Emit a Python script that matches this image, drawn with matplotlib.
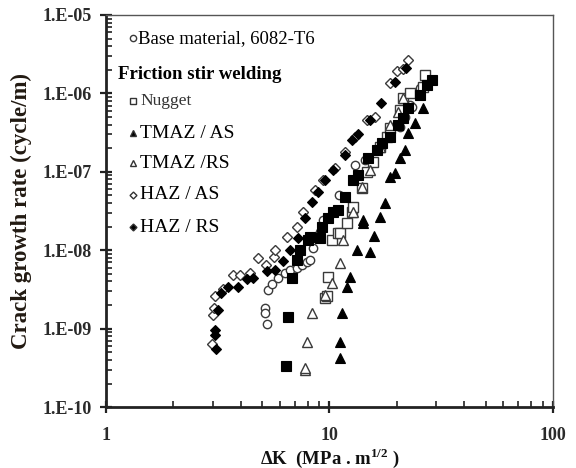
import math
import matplotlib
matplotlib.use("Agg")
import matplotlib.pyplot as plt
from matplotlib.ticker import LogLocator, FixedLocator, NullFormatter, FuncFormatter

plt.rcParams['font.family'] = ['Liberation Serif', 'DejaVu Serif']
plt.rcParams['mathtext.fontset'] = 'custom'
plt.rcParams['mathtext.rm'] = 'Liberation Serif:bold'
plt.rcParams['mathtext.bf'] = 'Liberation Serif:bold'

# base material 6082-T6 (open circles)
base_dk = [5.14, 5.14, 5.25, 5.31, 5.53, 5.89, 6.32, 6.66, 7.16, 7.54, 7.93, 8.18, 8.44,
           9.07, 9.35, 11.0, 13.0, 14.4, 17.0, 20.66, 21.77, 22.9, 23.39, 25.41]
base_rate = [1.83e-9, 1.58e-9, 1.15e-9, 3.1e-9, 3.71e-9, 4.42e-9, 5.1e-9, 5.6e-9, 5.9e-9,
             6.5e-9, 7.1e-9, 7.5e-9, 1.07e-8, 1.71e-8, 2.43e-8, 5.0e-8, 1.22e-7, 1.4e-7,
             2.0e-7, 3.73e-7, 5.0e-7, 7.1e-7, 6.71e-7, 1.17e-6]

# nugget (open squares)
nug_dk = [9.54, 9.7, 9.8, 10.26, 10.91, 11.14, 11.97, 12.61, 12.74, 13.98, 14.72, 15.66,
          16.83, 18.08, 18.66, 20.66, 21.32, 22.91, 26.21, 26.74]
nug_rate = [2.46e-9, 2.6e-9, 4.5e-9, 1.35e-8, 1.66e-8, 1.66e-8, 2.22e-8, 3.07e-8, 3.56e-8,
            6.2e-8, 9.9e-8, 1.33e-7, 2.07e-7, 2.78e-7, 3.62e-7, 6.14e-7, 8.7e-7, 1.01e-6,
            1.21e-6, 1.72e-6]

# filled squares (not named in the legend)
sq_dk = [6.39, 6.52, 6.80, 7.16, 7.38, 8.01, 8.18, 9.07, 9.25, 9.84, 10.37, 10.91, 11.72,
         12.74, 13.42, 14.86, 16.32, 17.17, 18.66, 20.25, 21.32, 22.44, 25.41, 27.31, 28.75]
sq_rate = [3.3e-10, 1.41e-9, 4.42e-9, 7.5e-9, 1.01e-8, 1.35e-8, 1.47e-8, 1.43e-8, 1.98e-8,
           2.57e-8, 3.07e-8, 3.26e-8, 4.8e-8, 7.9e-8, 9.1e-8, 1.5e-7, 1.9e-7, 2.33e-7,
           2.78e-7, 3.95e-7, 4.86e-7, 6.52e-7, 9.5e-7, 1.28e-6, 1.48e-6]

# TMAZ / AS (filled triangles)
tas_dk = [11.14, 11.14, 11.37, 11.97, 12.35, 13.28, 15.18, 15.82, 14.12, 14.12, 16.83,
          17.71, 18.66, 19.63, 20.66, 21.77, 22.44, 24.14, 26.21]
tas_rate = [4.2e-10, 6.7e-10, 1.58e-9, 3.39e-9, 4.55e-9, 1.01e-8, 9.5e-9, 1.52e-8, 2.22e-8,
            2.43e-8, 2.65e-8, 4.0e-8, 8.6e-8, 9.7e-8, 1.5e-7, 1.9e-7, 3.13e-7, 4.19e-7,
            6.52e-7]

# TMAZ / RS (open triangles)
trs_dk = [7.77, 7.8, 7.93, 8.35, 9.54, 10.26, 11.14, 11.49, 12.74, 13.98, 15.18, 16.83,
          18.66, 20.25, 21.32]
trs_rate = [2.96e-10, 3.2e-10, 6.7e-10, 1.58e-9, 2.68e-9, 3.82e-9, 6.9e-9, 1.35e-8, 3.07e-8,
            6.4e-8, 1.05e-7, 2.07e-7, 3.95e-7, 5.79e-7, 8.7e-7]

# HAZ / AS (open diamonds)
has_dk = [2.98, 3.01, 3.04, 3.07, 3.34, 3.70, 3.98, 4.41, 4.79, 5.20, 5.65, 5.70, 6.45,
          7.16, 7.61, 8.61, 9.35, 10.58, 11.72, 13.0, 14.72, 15.99, 18.66, 20.04, 21.32, 22.44]
has_rate = [6.4e-10, 1.49e-9, 1.83e-9, 2.61e-9, 3.2e-9, 4.8e-9, 4.8e-9, 5.1e-9, 8.0e-9,
            6.5e-9, 8.2e-9, 1.01e-8, 1.47e-8, 1.98e-8, 3.07e-8, 5.9e-8, 7.9e-8, 1.12e-7,
            1.79e-7, 2.78e-7, 4.58e-7, 5.0e-7, 1.36e-6, 1.93e-6, 2.05e-6, 2.67e-6]

# HAZ / RS (filled diamonds)
hrs_dk = [3.07, 3.07, 3.11, 3.17, 3.27, 3.51, 3.90, 4.28, 4.54, 5.25, 5.70, 6.19, 6.66,
          7.23, 7.77, 8.35, 8.89, 9.54, 10.37, 11.72, 12.61, 13.42, 15.18, 17.0, 19.63, 21.97]
hrs_rate = [9.6e-10, 8.3e-10, 5.5e-10, 1.73e-9, 2.84e-9, 3.39e-9, 3.39e-9, 4.29e-9, 4.42e-9,
            5.4e-9, 5.6e-9, 7.3e-9, 1.01e-8, 1.43e-8, 2.57e-8, 4.1e-8, 5.5e-8, 7.9e-8,
            1.05e-7, 1.64e-7, 2.55e-7, 3.03e-7, 4.58e-7, 7.55e-7, 1.40e-6, 2.11e-6]

fig = plt.figure(figsize=(5.76, 4.68), dpi=100)
ax = fig.add_axes([0.184, 0.130, 0.776, 0.838])

open_kw = dict(ls='none', mfc='white', mec='#3a3a3a', mew=1.0)
fill_kw = dict(ls='none', mfc='black', mec='black', mew=0.8)

ax.plot(base_dk, base_rate, marker='o', ms=6, **open_kw)
ax.plot(nug_dk, nug_rate, marker='s', ms=6.5, **open_kw)
ax.plot(trs_dk, trs_rate, marker='^', ms=6.5, **open_kw)
ax.plot(has_dk, has_rate, marker='D', ms=4.8, **open_kw)
ax.plot(sq_dk, sq_rate, marker='s', ms=6.5, **fill_kw)
ax.plot(tas_dk, tas_rate, marker='^', ms=6.5, **fill_kw)
ax.plot(hrs_dk, hrs_rate, marker='D', ms=4.8, **fill_kw)

ax.set_xscale('log')
ax.set_yscale('log')
ax.set_xlim(1, 100)
ax.set_ylim(1e-10, 1e-5)

ax.xaxis.set_major_locator(FixedLocator([1, 10, 100]))
ax.xaxis.set_minor_locator(LogLocator(base=10, subs=range(2, 10)))
ax.xaxis.set_minor_formatter(NullFormatter())
ax.xaxis.set_major_formatter(FuncFormatter(lambda v, p: '%d' % round(v)))
ax.yaxis.set_major_locator(FixedLocator([1e-10, 1e-9, 1e-8, 1e-7, 1e-6, 1e-5]))
ax.yaxis.set_minor_locator(LogLocator(base=10, subs=range(2, 10)))
ax.yaxis.set_minor_formatter(NullFormatter())
ax.yaxis.set_major_formatter(FuncFormatter(lambda v, p: '1.E%03d' % round(math.log10(v))))

ax.tick_params(which='major', direction='inout', length=9, width=1.6, color='#222')
ax.tick_params(which='minor', direction='in', length=4, width=1.2, color='#222')
ax.tick_params(axis='y', which='major', pad=6)
ax.tick_params(axis='x', which='major', pad=10)
for lab in ax.get_xticklabels() + ax.get_yticklabels():
    lab.set_fontweight('bold')
    lab.set_fontsize(13)
    lab.set_color('#2a2a2a')

for s in ['left', 'bottom']:
    ax.spines[s].set_linewidth(2.0)
    ax.spines[s].set_color('#222222')
for s in ['top', 'right']:
    ax.spines[s].set_linewidth(1.0)
    ax.spines[s].set_color('#555555')

ax.set_ylabel('Crack growth rate (cycle/m)', fontsize=16.5, fontweight='bold', color='#221a12')
ax.yaxis.set_label_coords(-0.165, 0.5)
ax.set_xlabel(r'ΔK  (MPa . m$^{1/2}$ )', fontsize=13.5, fontweight='bold', color='#111111')
ax.xaxis.set_label_coords(0.5, -0.098)

# in-plot legend text
tr = ax.transAxes
ax.plot([0.060], [0.941], marker='o', ms=4.5, transform=tr, clip_on=False, **open_kw)
ax.text(0.072, 0.941, 'Base material, 6082-T6', transform=tr, fontsize=13.5, va='center', ha='left')
ax.text(0.027, 0.847, 'Friction stir welding', transform=tr, fontsize=13.5, fontweight='bold',
        va='center', ha='left')
legend_rows = [('s', 'white', 'Nugget', 0.781, 12.5, '#333333'),
               ('^', 'black', 'TMAZ / AS', 0.699, 14, 'black'),
               ('^', 'white', 'TMAZ /RS', 0.622, 14, 'black'),
               ('D', 'white', 'HAZ / AS', 0.541, 14, 'black'),
               ('D', 'black', 'HAZ / RS', 0.459, 14, 'black')]
for mk, fc, name, yy, fs, col in legend_rows:
    ax.plot([0.060], [yy], marker=mk, ms=4.0 if mk != 'D' else 3.5, mfc=fc, mec='#333333',
            mew=1.0, ls='none', transform=tr, clip_on=False)
    ax.text(0.076, yy, name, transform=tr, fontsize=fs, va='center', ha='left', color=col)

fig.savefig('out.png', dpi=100)
